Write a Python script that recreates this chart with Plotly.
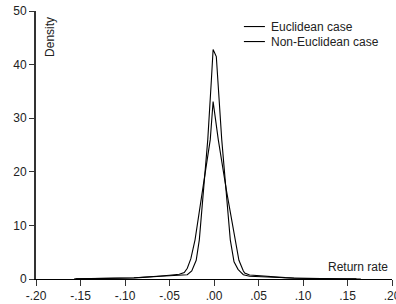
import plotly.graph_objects as go

# Euclidean case (taller, narrower peak)
x_euc = [-0.157, -0.14, -0.12, -0.10, -0.09, -0.08, -0.07, -0.06, -0.05, -0.04,
         -0.035, -0.03, -0.025, -0.02, -0.0165, -0.012, -0.007, -0.003, -0.001,
         0.0026, 0.005, 0.0087, 0.013, 0.0183, 0.0225, 0.027, 0.03, 0.033, 0.04,
         0.05, 0.06, 0.07, 0.08, 0.09, 0.10, 0.12, 0.14, 0.165]
y_euc = [0.02, 0.05, 0.08, 0.12, 0.18, 0.3, 0.45, 0.5, 0.6, 0.65,
         0.7, 0.8, 1.5, 3.5, 7.3, 16.2, 26.0, 37.0, 42.8,
         41.5, 35.4, 26.0, 17.6, 7.3, 3.2, 1.8, 1.3, 0.8, 0.5,
         0.4, 0.4, 0.28, 0.22, 0.15, 0.1, 0.06, 0.03, 0.01]

# Non-Euclidean case (lower, wider peak)
x_non = [-0.155, -0.14, -0.12, -0.10, -0.09, -0.08, -0.07, -0.06, -0.05, -0.045,
         -0.039, -0.0334, -0.03, -0.026, -0.0213, -0.012, -0.0042, -0.001,
         0.0048, 0.014, 0.0236, 0.028, 0.033, 0.0345, 0.04, 0.05, 0.06, 0.07,
         0.08, 0.09, 0.10, 0.12, 0.14, 0.16]
y_non = [0.03, 0.06, 0.1, 0.15, 0.22, 0.32, 0.4, 0.55, 0.7, 0.75,
         0.9, 1.2, 2.0, 3.8, 7.3, 17.5, 26.0, 33.1,
         26.0, 16.5, 7.3, 3.5, 1.5, 1.1, 0.75, 0.6, 0.5, 0.35,
         0.25, 0.18, 0.12, 0.07, 0.04, 0.02]

series_names = ["Euclidean case", "Non-Euclidean case"]
x_ticks = [-0.20, -0.15, -0.10, -0.05, 0.00, 0.05, 0.10, 0.15, 0.20]
x_labels = ["-.20", "-.15", "-.10", "-.05", ".00", ".05", ".10", ".15", ".20"]
y_ticks = [0, 10, 20, 30, 40, 50]

font = "Liberation Sans, Arial, Helvetica, sans-serif"

fig = go.Figure()
fig.add_trace(go.Scatter(x=x_euc, y=y_euc, mode="lines", name=series_names[0],
                         line=dict(color="black", width=1.1), showlegend=False))
fig.add_trace(go.Scatter(x=x_non, y=y_non, mode="lines", name=series_names[1],
                         line=dict(color="black", width=1.1), showlegend=False))

# Legend drawn as key lines + labels
legend_rows = [0.942, 0.886]
shapes = []
annotations = []
for name, ry in zip(series_names, legend_rows):
    shapes.append(dict(type="line", xref="paper", yref="paper",
                       x0=0.584, x1=0.643, y0=ry, y1=ry,
                       line=dict(color="black", width=1.1)))
    annotations.append(dict(text=name, x=0.654, y=ry, xref="paper", yref="paper",
                            xanchor="left", yanchor="middle", showarrow=False,
                            font=dict(size=12, color="#222")))

annotations += [
    dict(text="Density", x=0.039, y=0.985, xref="paper", yref="paper",
         xanchor="center", yanchor="top", textangle=-90, showarrow=False,
         font=dict(size=12, color="#222")),
    dict(text="Return rate", x=0.198, y=2.3, xref="x", yref="y",
         xanchor="right", yanchor="middle", showarrow=False,
         font=dict(size=12, color="#222")),
]

fig.update_layout(
    width=396, height=304,
    margin=dict(l=36, r=4, t=11, b=25),
    paper_bgcolor="white", plot_bgcolor="white",
    font=dict(family=font, size=12, color="#222"),
    showlegend=False,
    xaxis=dict(range=[-0.2, 0.2], tickvals=x_ticks, ticktext=x_labels,
               showgrid=False, zeroline=False, showline=True, linecolor="black",
               linewidth=1, ticks="outside", ticklen=6, tickcolor="#333",
               tickfont=dict(size=12, color="#222"), automargin=False,
               ticklabeloverflow="allow"),
    yaxis=dict(range=[0, 50], tickvals=y_ticks, showgrid=False, zeroline=False,
               showline=True, linecolor="#333", linewidth=2, ticks="outside",
               ticklen=5, tickcolor="#333", tickfont=dict(size=12, color="#222"),
               automargin=False),
    shapes=shapes,
    annotations=annotations,
)

fig.write_html("out.html", config={"displayModeBar": False},
               post_script="document.body.style.margin='0';document.body.style.overflow='hidden';")
